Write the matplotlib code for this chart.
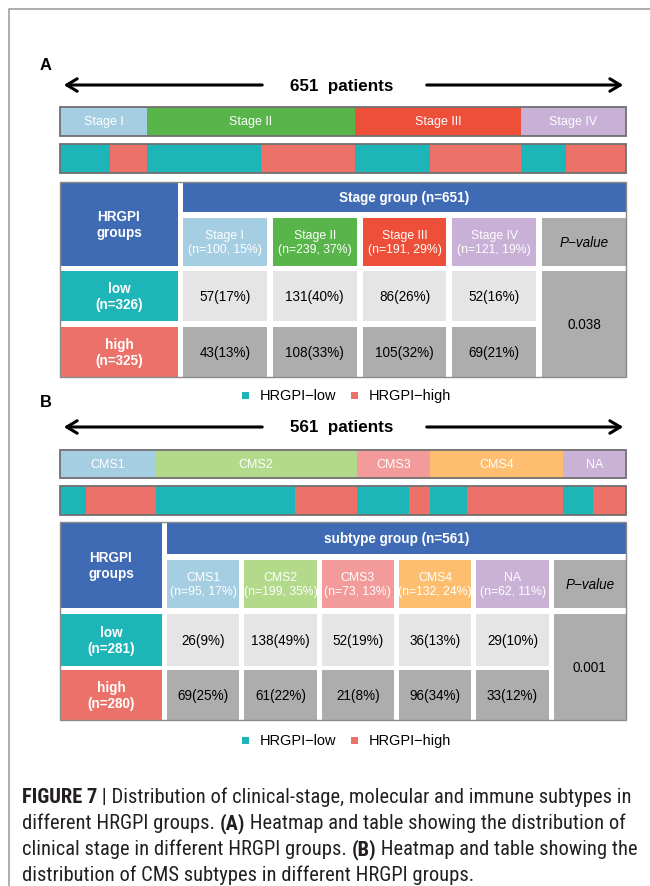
import matplotlib.pyplot as plt
from matplotlib.patches import Rectangle

plt.rcParams['font.family'] = ['Liberation Sans', 'DejaVu Sans']

# ---- data ----
stage_names = ["Stage I", "Stage II", "Stage III", "Stage IV"]
stage_low = [57, 131, 86, 52]
stage_high = [43, 108, 105, 69]
stage_low_pct = [17, 40, 26, 16]
stage_high_pct = [13, 33, 32, 21]
stage_pct = [15, 37, 29, 19]
stage_p = "0.038"

cms_names = ["CMS1", "CMS2", "CMS3", "CMS4", "NA"]
cms_low = [26, 138, 52, 36, 29]
cms_high = [69, 61, 21, 96, 33]
cms_low_pct = [9, 49, 19, 13, 10]
cms_high_pct = [25, 22, 8, 34, 12]
cms_pct = [17, 35, 13, 24, 11]
cms_p = "0.001"

stage_colors = ["#A6CEE3", "#58B54A", "#EE4F38", "#C8B0D7"]
cms_colors = ["#A6CEE3", "#B3D98B", "#F39B9A", "#FDBF6F", "#CAB2D6"]
LOW_C = "#1EB5B8"
HIGH_C = "#EC7269"
BLUE = "#3F6BB4"
LIGHT = "#E5E5E5"
DARK = "#ADADAD"
EDGE = "#707070"

PX = 0.72  # px -> pt at dpi 100

fig = plt.figure(figsize=(6.5, 8.87), dpi=100)
ax = fig.add_axes([0, 0, 1, 1])
ax.set_xlim(0, 650)
ax.set_ylim(887, 0)
ax.axis('off')

# page frame
ax.plot([8.5, 8.5, 650], [887, 9.5, 9.5], color="#A0A0A0", lw=1.2, solid_capstyle='butt')

X0, X1 = 60, 626


def box(x0, y0, x1, y1, fc, ec='none', lw=0, z=2):
    ax.add_patch(Rectangle((x0, y0), x1 - x0, y1 - y0, fc=fc, ec=ec, lw=lw, zorder=z))


def draw_panel(letter, letter_y, arrow_y, title, bar_y, grp_y, names, colors,
               low, high, low_pct, high_pct, pct, group_title, pval,
               left_x, tab_rows, col_gap, legend_y):
    total = sum(low) + sum(high)
    ax.text(40, letter_y, letter, fontsize=16.5 * PX, fontweight='bold', va='center', ha='left')

    # arrow with total count
    ax.text(342, arrow_y, title, fontsize=17 * PX, fontweight='bold', ha='center', va='center')
    head = dict(arrowstyle='->,head_length=0.75,head_width=0.45', lw=2.2, color='black')
    ax.annotate('', xy=(X0 + 1, arrow_y), xytext=(265, arrow_y), arrowprops=head)
    ax.annotate('', xy=(X1, arrow_y), xytext=(424, arrow_y), arrowprops=head)

    # category bar and low/high bar, widths proportional to counts
    scale = (X1 - X0) / total
    x = X0
    for name, c, lo, hi in zip(names, colors, low, high):
        w = (lo + hi) * scale
        box(x, bar_y[0], x + w, bar_y[1], c)
        ax.text(x + w / 2, (bar_y[0] + bar_y[1]) / 2, name, color='white',
                fontsize=12.5 * PX, ha='center', va='center', zorder=3)
        box(x, grp_y[0], x + lo * scale, grp_y[1], LOW_C)
        box(x + lo * scale, grp_y[0], x + w, grp_y[1], HIGH_C)
        x += w
    for y0, y1 in (bar_y, grp_y):
        box(X0, y0, X1, y1, 'none', ec=EDGE, lw=1.3, z=4)

    # table
    (h0, h1), (s0, s1), (l0, l1), (g0, g1) = tab_rows
    fs_head = 13.5 * PX
    fs_sub = 12.3 * PX
    fs_cell = 13.5 * PX
    box(X0, h0, left_x, s1, BLUE)
    ax.text((X0 + left_x) / 2, (h0 + s1) / 2, "HRGPI\ngroups", color='white', fontweight='bold',
            fontsize=fs_head, ha='center', va='center', linespacing=1.25, zorder=3)
    box(X0, l0, left_x, l1, LOW_C)
    box(X0, g0, left_x, g1, HIGH_C)
    ax.text((X0 + left_x) / 2, (l0 + l1) / 2, "low\n(n=%d)" % sum(low), color='white',
            fontweight='bold', fontsize=fs_head, ha='center', va='center', linespacing=1.25, zorder=3)
    ax.text((X0 + left_x) / 2, (g0 + g1) / 2, "high\n(n=%d)" % sum(high), color='white',
            fontweight='bold', fontsize=fs_head, ha='center', va='center', linespacing=1.25, zorder=3)

    c0 = left_x + 5
    box(c0, h0, X1, h1, BLUE)
    ax.text((c0 + X1) / 2, (h0 + h1) / 2, group_title, color='white', fontweight='bold',
            fontsize=fs_head, ha='center', va='center', zorder=3)

    ncol = len(names) + 1
    cw = (X1 - c0 - col_gap * (ncol - 1)) / ncol
    for i in range(ncol):
        xa = c0 + i * (cw + col_gap)
        xb = xa + cw
        xm = (xa + xb) / 2
        if i < len(names):
            n = low[i] + high[i]
            box(xa, s0, xb, s1, colors[i])
            ax.text(xm, (s0 + s1) / 2, "%s\n(n=%d, %d%%)" % (names[i], n, pct[i]), color='white',
                    fontsize=fs_sub, ha='center', va='center', linespacing=1.2, zorder=3)
            box(xa, l0, xb, l1, LIGHT)
            box(xa, g0, xb, g1, DARK)
            ax.text(xm, (l0 + l1) / 2, "%d(%d%%)" % (low[i], low_pct[i]), fontsize=fs_cell,
                    ha='center', va='center', zorder=3)
            ax.text(xm, (g0 + g1) / 2, "%d(%d%%)" % (high[i], high_pct[i]), fontsize=fs_cell,
                    ha='center', va='center', zorder=3)
        else:
            box(xa, s0, X1, s1, DARK)
            ax.text((xa + X1) / 2, (s0 + s1) / 2, "P\u2212value", style='italic',
                    fontsize=fs_cell, ha='center', va='center', zorder=3)
            box(xa, l0, X1, g1, DARK)
            ax.text((xa + X1) / 2, (l0 + g1) / 2, pval, fontsize=fs_cell,
                    ha='center', va='center', zorder=3)
    box(X0, h0, X1, g1, 'none', ec='#8A8A8A', lw=1.0, z=4)

    # legend
    for sx, c, lab in ((242, LOW_C, "HRGPI\u2212low"), (351, HIGH_C, "HRGPI\u2212high")):
        box(sx, legend_y - 3.5, sx + 7, legend_y + 3.5, c)
        ax.text(sx + 18, legend_y, lab, fontsize=14.5 * PX, ha='left', va='center')


draw_panel("A", 66, 86, "651  patients", (108, 137), (145, 174), stage_names, stage_colors,
           stage_low, stage_high, stage_low_pct, stage_high_pct, stage_pct,
           "Stage group (n=651)", stage_p, 178,
           [(183, 213), (219, 267), (272, 322), (328, 378)], 6, 396)

draw_panel("B", 403, 428, "561  patients", (451, 479), (487, 516), cms_names, cms_colors,
           cms_low, cms_high, cms_low_pct, cms_high_pct, cms_pct,
           "subtype group (n=561)", cms_p, 162,
           [(523, 555), (561, 609), (615, 667), (671, 721)], 5, 741)

# caption with mixed bold runs, condensed face fitted to the text width
cap_font = ['Roboto Condensed', 'Liberation Sans']
lines = [
    [("FIGURE 7", True), (" | Distribution of clinical-stage, molecular and immune subtypes in", False)],
    [("different HRGPI groups. ", False), ("(A)", True), (" Heatmap and table showing the distribution of", False)],
    [("clinical stage in different HRGPI groups. ", False), ("(B)", True), (" Heatmap and table showing the", False)],
    [("distribution of CMS subtypes in different HRGPI groups.", False)],
]
fig.canvas.draw()
renderer = fig.canvas.get_renderer()
inv = ax.transData.inverted()


def draw_line(runs, y, size):
    x = 22
    made = []
    for s, bold in runs:
        t = ax.text(x, y, s, fontsize=size, family=cap_font,
                    fontweight='bold' if bold else 'normal', ha='left', va='baseline', color='#231F20')
        made.append(t)
        bb = t.get_window_extent(renderer)
        x = inv.transform((bb.x1, bb.y1))[0]
    return made, x


size = 17 * PX
made, xe = draw_line(lines[0], 803, size)
for t in made:
    t.remove()
size *= (631 - 22) / (xe - 22)
for k, runs in enumerate(lines):
    draw_line(runs, 803 + k * 26, size)

fig.savefig("out.png", dpi=100)
